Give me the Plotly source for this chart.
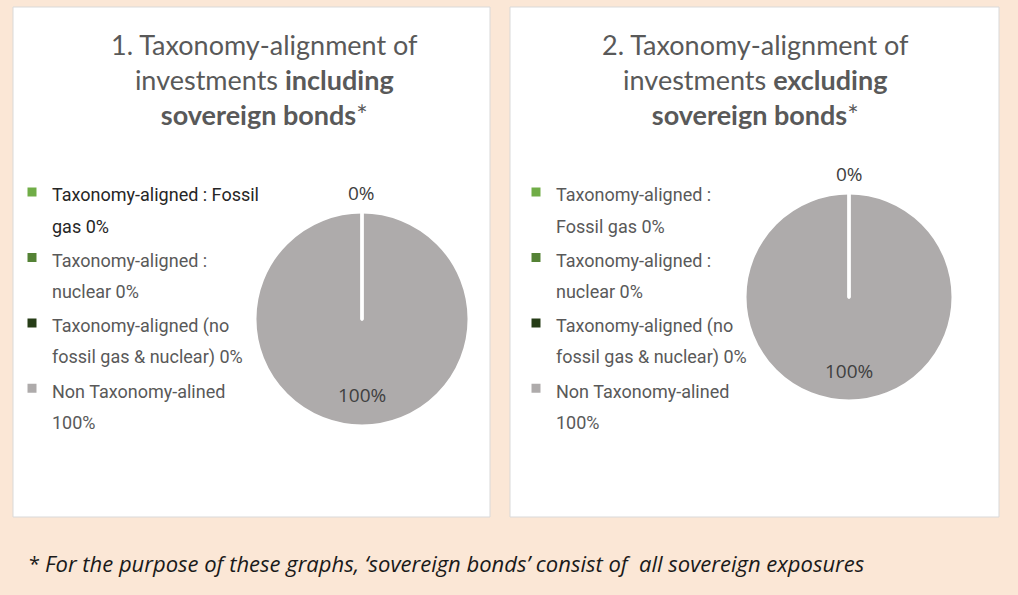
import math
import plotly.graph_objects as go

# ---------------- data ----------------
categories = [
    "Taxonomy-aligned : Fossil gas",
    "Taxonomy-aligned : nuclear",
    "Taxonomy-aligned (no fossil gas & nuclear)",
    "Non Taxonomy-alined",
]
values_incl = [0, 0, 0, 100]
values_excl = [0, 0, 0, 100]
legend_text_incl = [
    "Taxonomy-aligned : Fossil<br>gas",
    "Taxonomy-aligned :<br>nuclear",
    "Taxonomy-aligned (no<br>fossil gas & nuclear)",
    "Non Taxonomy-alined<br>",
]
legend_text_excl = [
    "Taxonomy-aligned :<br>Fossil gas",
    "Taxonomy-aligned :<br>nuclear",
    "Taxonomy-aligned (no<br>fossil gas & nuclear)",
    "Non Taxonomy-alined<br>",
]
slice_colors = ["#70AD47", "#548235", "#263D17", "#AEABAB"]
title_incl = "1. Taxonomy-alignment of<br>investments <b>including</b><br><b>sovereign bonds</b>*"
title_excl = "2. Taxonomy-alignment of<br>investments <b>excluding</b><br><b>sovereign bonds</b>*"
footnote = "For the purpose of these graphs, \u2018sovereign bonds\u2019 consist of  all sovereign exposures"

# ---------------- layout constants ----------------
W, H = 1018, 595
BG = "#FBE7D6"
TEXT = "#595959"
LEGEND_FONT = "Liberation Sans Narrow, Roboto, Liberation Sans, sans-serif"
LEGEND_GLYPH = 18      # visible glyph size
LEGEND_LINE = 24       # font size driving the line spacing
legend_text_colors_incl = ["#262626", TEXT, TEXT, TEXT]
legend_text_colors_excl = [TEXT, TEXT, TEXT, TEXT]

panels = [  # x0, y0, x1, y1 in pixels (top-left origin)
    (13, 7, 490, 517),
    (510, 7, 999, 517),
]
pies = [  # cx, cy, r in pixels
    (362, 319, 107),
    (849, 297, 104),
]
legend_pos = [(12, 170), (516, 170)]
title_pos = [(264, 80), (755, 80)]


def px(x):
    return x / W


def py(y):
    return 1 - y / H


def pct_text(v, total):
    return f"{v / total:.0%}"


fig = go.Figure()
annotations = []
shapes = []

for x0, y0, x1, y1 in panels:
    shapes.append(dict(type="rect", xref="paper", yref="paper",
                       x0=px(x0), x1=px(x1), y0=py(y1), y1=py(y0),
                       fillcolor="white", line=dict(color="#D9D9D9", width=1),
                       layer="below"))

datasets = [
    (values_incl, legend_text_incl, legend_text_colors_incl, "legend", title_incl, ""),
    (values_excl, legend_text_excl, legend_text_colors_excl, "legend2", title_excl, ";"),
]

for i, (vals, leg_txt, leg_cols, leg_name, title, uniq) in enumerate(datasets):
    total = sum(vals)
    names = []
    for t, v, c in zip(leg_txt, vals, leg_cols):
        lines = f"{t} {pct_text(v, total)}".split("<br>")
        styled = "<br>".join(
            f"<span style='font-size:{LEGEND_GLYPH}px;color:{c}{uniq}'>{ln.strip()}</span>"
            for ln in lines
        )
        names.append(styled)
    cx, cy, r = pies[i]
    # reversed order so the large slice is drawn first and the white
    # borders of the zero slices remain visible on top of it
    fig.add_trace(go.Pie(
        labels=names[::-1],
        values=vals[::-1],
        sort=False,
        direction="clockwise",
        rotation=0,
        marker=dict(colors=slice_colors[::-1], line=dict(color="white", width=3)),
        textinfo="none",
        hovertemplate="%{label}<extra></extra>",
        domain=dict(x=[px(cx - r), px(cx + r)], y=[py(cy + r), py(cy - r)]),
        legend=leg_name,
        showlegend=True,
    ))

    # data labels placed at slice mid-angles (clockwise from 12 o'clock)
    cum = 0.0
    shown_zero = False
    for v in vals[::-1]:
        mid = (cum + v / 2) / total * 2 * math.pi
        cum += v
        if v == 0:
            if shown_zero:
                continue
            shown_zero = True
            dist = r + 19
        else:
            dist = 0.71 * r
        lx = cx + dist * math.sin(mid)
        ly = cy - dist * math.cos(mid)
        annotations.append(dict(
            x=px(lx), y=py(ly), xref="paper", yref="paper",
            text=pct_text(v, total), showarrow=False,
            xanchor="center", yanchor="middle",
            font=dict(family="Open Sans", size=19, color="#404040"),
        ))

    tx, ty = title_pos[i]
    annotations.append(dict(
        x=px(tx), y=py(ty), xref="paper", yref="paper", text=title,
        showarrow=False, xanchor="center", yanchor="middle", align="center",
        font=dict(family="Lato", size=27, color=TEXT),
    ))

annotations.append(dict(x=px(27), y=py(563), xref="paper", yref="paper", text="*",
                        showarrow=False, xanchor="left", yanchor="middle",
                        font=dict(family="Open Sans", size=20, color="#1A1A1A")))
annotations.append(dict(x=px(43), y=py(563), xref="paper", yref="paper",
                        text=f"<i>{footnote}</i>",
                        showarrow=False, xanchor="left", yanchor="middle",
                        font=dict(family="Open Sans", size=22, color="#1A1A1A")))

legend_common = dict(
    orientation="v", xanchor="left", yanchor="top", valign="top",
    bgcolor="rgba(0,0,0,0)", borderwidth=0, traceorder="reversed",
    font=dict(family=LEGEND_FONT, size=LEGEND_LINE, color=TEXT),
)

fig.update_layout(
    width=W, height=H,
    margin=dict(l=0, r=0, t=0, b=0),
    paper_bgcolor=BG,
    plot_bgcolor=BG,
    shapes=shapes,
    annotations=annotations,
    legend=dict(x=px(legend_pos[0][0]), y=py(legend_pos[0][1]), **legend_common),
    legend2=dict(x=px(legend_pos[1][0]), y=py(legend_pos[1][1]), **legend_common),
)

fig.write_html(
    "out.html",
    config={"displayModeBar": False},
    post_script="document.body.style.margin='0';document.body.style.background='%s';" % BG,
)
